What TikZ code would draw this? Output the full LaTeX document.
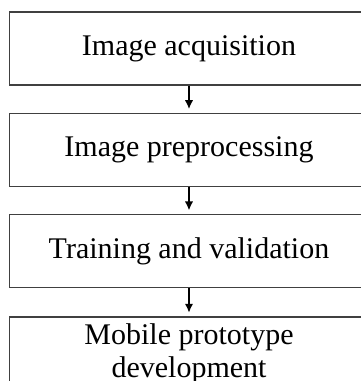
\documentclass[tikz,border=0pt]{standalone}
\usepackage{fontspec}
\setmainfont{Liberation Serif}
\usetikzlibrary{arrows.meta,positioning}

\begin{document}
\begin{tikzpicture}[->,>={Latex[length=9pt,width=8.5pt]},node distance=27pt,
    stage/.style={draw=black!75,line width=1.3pt,minimum width=359pt,minimum height=73pt,
      align=center,font=\fontsize{30}{33}\selectfont},
    flow/.style={line width=2pt,shorten >=3.5pt}]
    \useasboundingbox (0,0) rectangle (361pt,-381pt);
    \node[stage] (acq) at (189pt,-48.5pt) {Image acquisition};
    \node[stage] (pre) [below=of acq] {Image preprocessing};
    \node[stage] (train) [below=of pre] {Training and validation};
    \node[stage] (mobile) [below=28pt of train] {Mobile prototype\\development};
    \path (acq) edge[flow] (pre)
          (pre) edge[flow] (train)
          (train) edge[flow] (mobile);
  \end{tikzpicture}
\end{document}
